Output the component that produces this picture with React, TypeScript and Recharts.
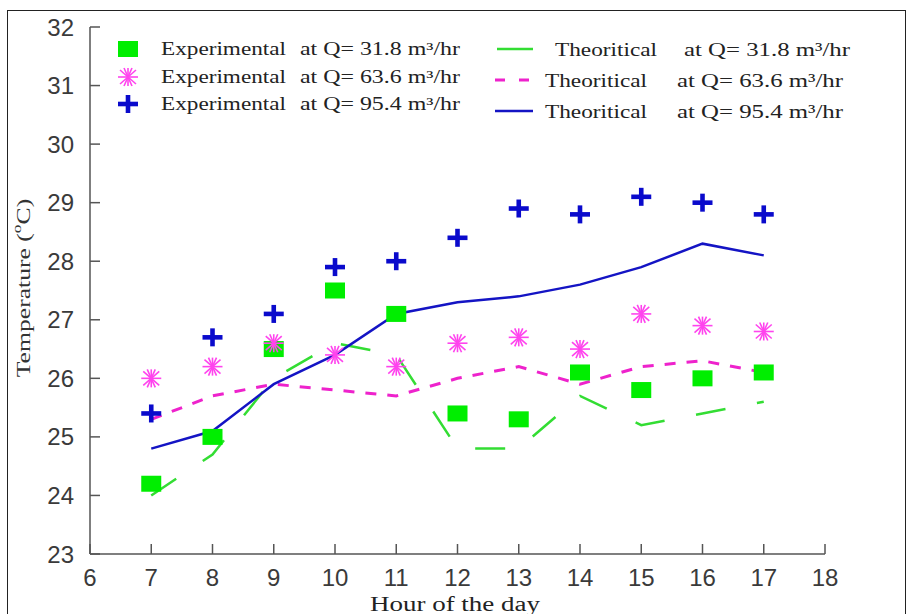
import { ComposedChart, Line, Scatter, XAxis, YAxis, Legend, Label } from "recharts";

// hour of the day
const hours = [7, 8, 9, 10, 11, 12, 13, 14, 15, 16, 17];

// experimental points
const expQ318 = [24.2, 25.0, 26.5, 27.5, 27.1, 25.4, 25.3, 26.1, 25.8, 26.0, 26.1];
const expQ636 = [26.0, 26.2, 26.6, 26.4, 26.2, 26.6, 26.7, 26.5, 27.1, 26.9, 26.8];
const expQ954 = [25.4, 26.7, 27.1, 27.9, 28.0, 28.4, 28.9, 28.8, 29.1, 29.0, 28.8];

// theoretical curves
const thQ318 = [24.0, 24.7, 26.0, 26.6, 26.4, 24.8, 24.8, 25.7, 25.2, 25.4, 25.6];
const thQ636 = [25.3, 25.7, 25.9, 25.8, 25.7, 26.0, 26.2, 25.9, 26.2, 26.3, 26.1];
const thQ954 = [24.8, 25.1, 25.9, 26.4, 27.1, 27.3, 27.4, 27.6, 27.9, 28.3, 28.1];

const xTicks = [6, 7, 8, 9, 10, 11, 12, 13, 14, 15, 16, 17, 18];
const yTicks = [23, 24, 25, 26, 27, 28, 29, 30, 31, 32];

const expLabels = ["at Q= 31.8 m³/hr", "at Q= 63.6 m³/hr", "at Q= 95.4 m³/hr"];
const thLabels = ["at Q= 31.8  m³/hr", "at Q= 63.6  m³/hr", "at Q= 95.4  m³/hr"];

const data = hours.map((h, i) => ({
  hour: h,
  exp1: expQ318[i],
  exp2: expQ636[i],
  exp3: expQ954[i],
  th1: thQ318[i],
  th2: thQ636[i],
  th3: thQ954[i],
}));

const GREEN = "#00ee00";
const GREEN_LINE = "#33dd33";
const MAGENTA = "#ff44ee";
const MAGENTA_LINE = "#ee22cc";
const BLUE = "#0a0acc";
const BLUE_LINE = "#1414c4";
const SERIF = "'Liberation Serif', 'Times New Roman', serif";
const SANS = "'Liberation Sans', Arial, sans-serif";

function SquareMark({ cx, cy }: any) {
  return <rect x={cx - 10} y={cy - 8} width={20} height={16} fill={GREEN} />;
}

function StarMark({ cx, cy }: any) {
  const r = 10;
  const h = 9;
  return (
    <g stroke={MAGENTA} strokeWidth={1.6}>
      <line x1={cx - r} y1={cy} x2={cx + r} y2={cy} />
      <line x1={cx} y1={cy - h} x2={cx} y2={cy + h} />
      <line x1={cx - 8} y1={cy - 7} x2={cx + 8} y2={cy + 7} />
      <line x1={cx - 8} y1={cy + 7} x2={cx + 8} y2={cy - 7} />
      <line x1={cx - 4} y1={cy - 9} x2={cx + 4} y2={cy + 9} />
      <line x1={cx - 4} y1={cy + 9} x2={cx + 4} y2={cy - 9} />
    </g>
  );
}

function PlusMark({ cx, cy }: any) {
  return (
    <g fill={BLUE}>
      <rect x={cx - 10} y={cy - 2.3} width={20} height={4.6} />
      <rect x={cx - 2.3} y={cy - 9} width={4.6} height={18} />
    </g>
  );
}

function LegendBox() {
  const leftRows = [49, 77, 104];
  const rightRows = [49, 80, 111];
  const marks = [SquareMark, StarMark, PlusMark];
  return (
    <svg width={907} height={130}>
      {leftRows.map((y, i) => {
        const M = marks[i];
        return (
          <g key={"e" + i}>
            <M cx={128} cy={y} />
            <text x={161} y={y} dominantBaseline="central" fontFamily={SERIF} fontSize={18} fill="#222"
              textLength={125} lengthAdjust="spacingAndGlyphs">Experimental</text>
            <text x={300} y={y} dominantBaseline="central" fontFamily={SERIF} fontSize={18} fill="#222"
              textLength={160} lengthAdjust="spacingAndGlyphs">{expLabels[i]}</text>
          </g>
        );
      })}
      <line x1={497} y1={rightRows[0]} x2={533} y2={rightRows[0]} stroke={GREEN_LINE} strokeWidth={2.5} />
      <line x1={495} y1={rightRows[1]} x2={533} y2={rightRows[1]} stroke={MAGENTA_LINE} strokeWidth={3} strokeDasharray="10 14" />
      <line x1={495} y1={rightRows[2]} x2={533} y2={rightRows[2]} stroke={BLUE_LINE} strokeWidth={2.5} />
      {rightRows.map((y, i) => (
        <g key={"t" + i}>
          <text x={i === 0 ? 555 : 545} y={y} dominantBaseline="central" fontFamily={SERIF} fontSize={19} fill="#222"
            textLength={102} lengthAdjust="spacingAndGlyphs">Theoritical</text>
          <text x={i === 0 ? 684 : 677} y={y} dominantBaseline="central" fontFamily={SERIF} fontSize={19} fill="#222"
            textLength={166} lengthAdjust="spacingAndGlyphs">{thLabels[i]}</text>
        </g>
      ))}
    </svg>
  );
}

export default function App() {
  return (
    <div style={{ position: "absolute", left: 0, top: 0, width: 907, height: 614, background: "#fff", overflow: "hidden" }}>
      <div style={{ position: "absolute", left: 7, top: 10, width: 897, height: 610, borderLeft: "1px solid #222", borderTop: "1px solid #222", borderRight: "1px solid #222" }} />
      <ComposedChart width={907} height={614} data={data} margin={{ top: 27, right: 82, bottom: 0, left: 0 }}>
        <XAxis
          dataKey="hour"
          type="number"
          domain={[6, 18]}
          ticks={xTicks}
          height={60}
          stroke="#555"
          strokeWidth={1.5}
          tickSize={-10}
          tickMargin={25}
          tick={{ fontSize: 24, fill: "#3a3a3a", fontFamily: SANS }}
        >
          <Label
            content={() => (
              <text x={455} y={611} textAnchor="middle" fontFamily={SERIF} fontSize={20} fill="#222"
                textLength={170} lengthAdjust="spacingAndGlyphs">Hour of the day</text>
            )}
          />
        </XAxis>
        <YAxis
          type="number"
          domain={[23, 32]}
          ticks={yTicks}
          width={90}
          stroke="#555"
          strokeWidth={1.5}
          tickSize={-10}
          tickMargin={26}
          tick={{ fontSize: 24, fill: "#3a3a3a", fontFamily: SANS }}
        >
          <Label
            content={() => (
              <text transform="translate(24,288) rotate(-90) scale(1.35,1)" x={0} y={0} textAnchor="middle"
                dominantBaseline="central" fontFamily={SERIF} fontSize={19} fill="#333">
                Temperature (<tspan baselineShift="super" fontSize={13}>o</tspan>C)
              </text>
            )}
          />
        </YAxis>
        <Legend
          layout="horizontal"
          verticalAlign="middle"
          align="center"
          wrapperStyle={{ position: "absolute", left: 0, top: 0, width: 907, height: 130 }}
          content={() => <LegendBox />}
        />
        <Line dataKey="th1" type="linear" stroke={GREEN_LINE} strokeWidth={2.5} strokeDasharray="30 32" dot={false} isAnimationActive={false} />
        <Line dataKey="th2" type="linear" stroke={MAGENTA_LINE} strokeWidth={3} strokeDasharray="11 11" dot={false} isAnimationActive={false} />
        <Line dataKey="th3" type="linear" stroke={BLUE_LINE} strokeWidth={2.5} dot={false} isAnimationActive={false} />
        <Scatter dataKey="exp1" shape={SquareMark} isAnimationActive={false} />
        <Scatter dataKey="exp2" shape={StarMark} isAnimationActive={false} />
        <Scatter dataKey="exp3" shape={PlusMark} isAnimationActive={false} />
      </ComposedChart>
    </div>
  );
}
